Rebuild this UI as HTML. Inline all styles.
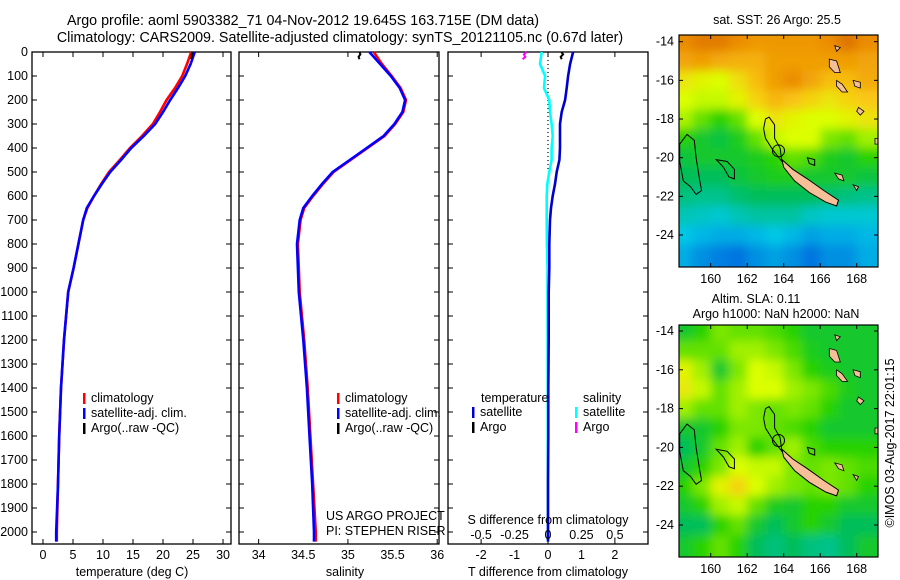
<!DOCTYPE html>
<html><head><meta charset="utf-8">
<style>
body{margin:0;background:#fff;}
svg{display:block;font-family:"Liberation Sans",sans-serif;}
text{font-size:12.5px;fill:#000;}
</style></head>
<body>
<svg id="fig" width="900" height="580" viewBox="0 0 900 580" xmlns="http://www.w3.org/2000/svg">
<rect width="900" height="580" fill="#fff"/>
<text x="303" y="25" text-anchor="middle" style="font-size:14.3px">Argo profile: aoml 5903382_71 04-Nov-2012 19.645S 163.715E (DM data)</text>
<text x="340" y="42" text-anchor="middle" style="font-size:14.3px">Climatology: CARS2009. Satellite-adjusted climatology: synTS_20121105.nc (0.67d later)</text>
<g id="g"></g>
</svg>
<script>
// ---- data ----
const depths = [0,50,100,150,200,250,300,350,400,450,500,550,600,650,700,800,900,1000,1200,1400,1600,1800,2000,2040];
const tempClim = [24.7,24.0,23.2,22.0,20.6,19.5,18.3,16.5,14.5,12.8,11.0,9.7,8.5,7.4,6.7,5.9,5.1,4.2,3.5,3.0,2.7,2.5,2.3,2.3];
const tempSat  = [25.3,24.6,23.7,22.5,21.2,20.0,18.7,16.8,14.7,13.0,11.2,9.8,8.5,7.3,6.7,5.9,5.1,4.2,3.5,3.0,2.7,2.5,2.2,2.2];
const salClim = [35.29,35.38,35.49,35.59,35.65,35.62,35.53,35.41,35.22,35.03,34.84,34.72,34.61,34.51,34.47,34.44,34.45,34.46,34.51,34.55,34.58,34.61,34.64,34.64];
const salSat  = [35.24,35.36,35.48,35.58,35.64,35.61,35.52,35.40,35.21,35.02,34.83,34.71,34.60,34.50,34.46,34.43,34.44,34.45,34.50,34.54,34.57,34.60,34.62,34.62];
const tDiffSat = [0.75,0.66,0.60,0.56,0.51,0.41,0.36,0.36,0.36,0.34,0.26,0.21,0.14,0.09,0.06,0.04,0.04,0.02,0.02,0.01,0.01,0.0,0.0,0.0];
const sDiffSat = [-0.047,-0.06,-0.022,-0.03,0.01,0.015,0.027,0.035,0.027,0.027,0.01,-0.005,-0.01,-0.01,-0.01,-0.008,-0.004,-0.004,-0.003,-0.002,-0.002,-0.001,0.0,0.0];
const argoDepths = [0,10,20,30];
const argoTemp = [24.9,24.8,24.8,24.7];
const argoSal = [35.13,35.14,35.12,35.13];
const argoTDiff = [0.40,0.45,0.38,0.41];
const argoSDiff = [-0.16,-0.18,-0.17,-0.19];
const depthTicks = [0,100,200,300,400,500,600,700,800,900,1000,1100,1200,1300,1400,1500,1600,1700,1800,1900,2000];
const tempTicks = [0,5,10,15,20,25,30];
const salTicks = [34,34.5,35,35.5,36];
const tdTicks = [-2,-1,0,1,2];
const sdTicks = [-0.5,-0.25,0,0.25,0.5];
const latTicks = [-14,-16,-18,-20,-22,-24];
const lonTicks = [160,162,164,166,168];
const sstGrid = [
[0.9,0.92,0.92,0.9,0.88,0.88,0.88,0.88,0.9,0.93,0.9],
[0.86,0.87,0.85,0.84,0.84,0.87,0.87,0.87,0.87,0.87,0.86],
[0.75,0.72,0.7,0.76,0.82,0.87,0.9,0.86,0.82,0.82,0.85],
[0.7,0.68,0.68,0.72,0.78,0.83,0.81,0.78,0.75,0.78,0.8],
[0.66,0.6,0.55,0.6,0.7,0.75,0.72,0.7,0.7,0.72,0.75],
[0.55,0.5,0.48,0.52,0.6,0.68,0.7,0.7,0.62,0.6,0.65],
[0.48,0.5,0.5,0.5,0.52,0.55,0.6,0.58,0.52,0.5,0.55],
[0.45,0.45,0.45,0.48,0.5,0.52,0.52,0.5,0.5,0.5,0.48],
[0.4,0.38,0.38,0.42,0.45,0.45,0.45,0.45,0.42,0.4,0.38],
[0.32,0.3,0.28,0.32,0.35,0.35,0.35,0.3,0.28,0.28,0.28],
[0.25,0.22,0.2,0.2,0.22,0.25,0.22,0.18,0.2,0.2,0.22],
[0.2,0.15,0.12,0.1,0.15,0.18,0.15,0.1,0.15,0.15,0.2]];
const slaGrid = [
[0.5,0.55,0.62,0.6,0.6,0.58,0.55,0.5,0.5,0.5,0.5],
[0.6,0.6,0.6,0.65,0.65,0.62,0.58,0.52,0.5,0.5,0.5],
[0.72,0.65,0.5,0.62,0.7,0.68,0.62,0.55,0.52,0.5,0.5],
[0.74,0.68,0.6,0.65,0.7,0.7,0.65,0.62,0.58,0.52,0.5],
[0.65,0.6,0.6,0.65,0.62,0.6,0.62,0.6,0.55,0.5,0.5],
[0.5,0.5,0.55,0.62,0.62,0.6,0.58,0.55,0.5,0.5,0.5],
[0.45,0.5,0.6,0.65,0.55,0.6,0.65,0.58,0.55,0.55,0.55],
[0.5,0.55,0.62,0.7,0.68,0.68,0.62,0.6,0.62,0.6,0.58],
[0.55,0.62,0.72,0.78,0.7,0.65,0.62,0.6,0.62,0.6,0.55],
[0.5,0.55,0.65,0.68,0.6,0.52,0.5,0.55,0.55,0.5,0.5],
[0.45,0.45,0.55,0.6,0.5,0.45,0.5,0.55,0.5,0.45,0.45],
[0.5,0.55,0.6,0.55,0.45,0.4,0.45,0.4,0.38,0.45,0.5]];
const newCal = [[163.9,-20.1],[164.5,-20.6],[165.3,-21.1],[166.2,-21.7],[167.0,-22.2],[166.9,-22.5],[166.3,-22.3],[165.4,-21.8],[164.6,-21.2],[164.0,-20.5]];
const vanuatu = [[[166.5,-14.9],[166.9,-15.0],[167.1,-15.6],[166.8,-15.6],[166.5,-15.3]],[[166.9,-16.0],[167.2,-16.2],[167.5,-16.6],[167.2,-16.6],[166.9,-16.3]],[[167.8,-16.0],[168.2,-16.1],[168.2,-16.4],[167.9,-16.3]],[[168.1,-17.4],[168.4,-17.6],[168.2,-17.8],[168.0,-17.6]],[[166.8,-20.8],[167.2,-20.9],[167.3,-21.2],[167.0,-21.1]],[[167.8,-21.4],[168.1,-21.5],[168.0,-21.7]],[[166.8,-14.2],[167.1,-14.3],[166.9,-14.5]],[[169.0,-19.0],[169.2,-19.0],[169.2,-19.3],[169.0,-19.3]]];
const contour1 = [[158.3,-19.3],[158.7,-18.8],[159.1,-19.1],[159.2,-20.0],[159.4,-21.2],[159.5,-21.7],[159.2,-21.9],[158.9,-21.5],[158.5,-21.2],[158.3,-20.2]];
const contour2 = [[163.0,-18.0],[163.2,-17.9],[163.5,-18.3],[163.5,-19.0],[163.8,-19.5],[163.9,-20.2],[163.4,-19.6],[163.0,-19.0],[162.9,-18.5]];
const contour3 = [[160.3,-20.1],[160.9,-20.2],[161.3,-20.6],[161.3,-21.1],[161.0,-21.0],[160.7,-20.5]];
const contour4 = [[165.3,-20.0],[165.7,-20.1],[165.7,-20.4],[165.4,-20.3]];
const argoPos = [163.715,-19.645];

const NS='http://www.w3.org/2000/svg';
const G=document.getElementById('g');
function el(tag,attrs,parent){const e=document.createElementNS(NS,tag);for(const k in attrs)e.setAttribute(k,attrs[k]);(parent||G).appendChild(e);return e;}
function txt(s,x,y,anchor,parent,size){const t=el('text',{x:x,y:y,'text-anchor':anchor||'middle'},parent);if(size)t.style.fontSize=size+'px';t.textContent=s;return t;}

const Y0=52, PY=0.24, YB=544;
const yOf=d=>Y0+d*PY;

function panel(name,x0,x1,xmin,xmax){
  const g=el('g',{});
  
  
  const xs=v=>x0+(v-xmin)/(xmax-xmin)*(x1-x0);
  return {g,xs,x0,x1};
}
function frame(p,xticks,depthLabels){
  el('rect',{x:p.x0,y:Y0,width:p.x1-p.x0,height:YB-Y0,fill:'none',stroke:'#000','stroke-width':1.3},p.g);
  depthTicks.forEach(d=>{const y=yOf(d);
    el('line',{x1:p.x0,y1:y,x2:p.x0+5,y2:y,stroke:'#000'},p.g);
    el('line',{x1:p.x1,y1:y,x2:p.x1-5,y2:y,stroke:'#000'},p.g);
    if(depthLabels){const t=txt(String(d),28,y+4,'end',p.g);
      
      }
  });
  xticks.forEach(v=>{const x=p.xs(v);
    el('line',{x1:x,y1:Y0,x2:x,y2:Y0+5,stroke:'#000'},p.g);
    el('line',{x1:x,y1:YB,x2:x,y2:YB-5,stroke:'#000'},p.g);
  });
}
function line(p,xsArr,ds,color,w,name){
  const pts=xsArr.map((v,i)=>p.xs(v).toFixed(1)+','+yOf(ds[i]).toFixed(1)).join(' ');
  const l=el('polyline',{points:pts,fill:'none',stroke:color,'stroke-width':w},p.g);
  
  
}
function legend(parent,x,y,items){
  items.forEach((it,i)=>{
    el('rect',{x:x,y:y+i*15-9,width:2.5,height:11,fill:it[0]},parent);
    const t=txt(it[1],x+8,y+i*15,'start',parent);
    
    
  });
}

const p1=panel('temperature-panel',32,231,-1.83,31.33);
frame(p1,tempTicks,true);
line(p1,tempClim,depths,'#f00',2.6,'temp-climatology-line');
line(p1,tempSat,depths,'#00f',2.6,'temp-satellite-line');
line(p1,argoTemp,argoDepths,'#000',2,'temp-argo-line');
tempTicks.forEach(v=>txt(String(v),p1.xs(v),559,'middle',p1.g));
txt('temperature (deg C)',132,576,'middle',p1.g);
legend(p1.g,83,402,[['#f00','climatology'],['#00f','satellite-adj. clim.'],['#000','Argo(..raw -QC)']]);

const p2=panel('salinity-panel',239,439,33.78,36.02);
frame(p2,[34,35,36],false);
line(p2,salClim,depths,'#f00',2.6,'sal-climatology-line');
line(p2,salSat,depths,'#00f',2.6,'sal-satellite-line');
line(p2,argoSal,argoDepths,'#000',2,'sal-argo-line');
salTicks.forEach(v=>txt(String(v),p2.xs(v),559,'middle',p2.g));
txt('salinity',345,576,'middle',p2.g);
legend(p2.g,337,402,[['#f00','climatology'],['#00f','satellite-adj. clim.'],['#000','Argo(..raw -QC)']]);
txt('US ARGO PROJECT',326,520,'start',p2.g);
txt('PI: STEPHEN RISER',326,535,'start',p2.g);

const p3=panel('difference-panel',448,648,-2.99,2.99);
frame(p3,[-2,0,2],false);
const zl=el('line',{x1:548,y1:Y0,x2:548,y2:yOf(500),stroke:'#000','stroke-dasharray':'1,3','stroke-width':1.2},p3.g);


line(p3,sDiffSat.map(v=>v*4),depths,'#0ff',2.6,'s-diff-satellite-line');
line(p3,tDiffSat,depths,'#00c',2.6,'t-diff-satellite-line');
line(p3,argoSDiff.map(v=>v*4),argoDepths,'#f0f',2,'s-diff-argo-line');
line(p3,argoTDiff,argoDepths,'#000',2,'t-diff-argo-line');
tdTicks.forEach(v=>txt(String(v),p3.xs(v),559,'middle',p3.g));
sdTicks.forEach(v=>txt(String(v),p3.xs(v*4),539,'middle',p3.g));
txt('S difference from climatology',548,524,'middle',p3.g);
txt('T difference from climatology',548,576,'middle',p3.g);
txt('temperature',481,402,'start',p3.g);
txt('salinity',583,402,'start',p3.g);
legend(p3.g,472,416,[['#00c','satellite'],['#000','Argo']]);
legend(p3.g,575,416,[['#0ff','satellite'],['#f0f','Argo']]);

function cmap(t){
  const stops=[[0,[0,60,220]],[0.25,[0,200,230]],[0.45,[0,190,90]],[0.55,[40,210,0]],[0.7,[220,255,0]],[0.8,[250,200,20]],[0.9,[235,140,0]],[1,[190,60,0]]];
  for(let i=1;i<stops.length;i++){if(t<=stops[i][0]){const a=stops[i-1],b=stops[i],f=(t-a[0])/(b[0]-a[0]);
    return 'rgb('+a[1].map((c,k)=>Math.round(c+(b[1][k]-c)*f)).join(',')+')';}}
  return 'rgb(190,60,0)';
}
function mapPanel(name,y0,y1,lat14y,lat24y,grid,titles){
  const g=el('g',{});
  
  
  const x0=679,x1=878;
  const lx=lon=>710.7+(lon-160)*18.25;
  const ly=lat=>lat14y+(-14-lat)*(lat24y-lat14y)/10;
  const id=name+'-clip';
  const cp=el('clipPath',{id:id},g);el('rect',{x:x0,y:y0,width:x1-x0,height:y1-y0},cp);
  const fid=name+'-blur';
  const f=el('filter',{id:fid,x:'-10%',y:'-10%',width:'120%',height:'120%'},g);el('feGaussianBlur',{stdDeviation:5},f);
  const outer=el('g',{'clip-path':'url(#'+id+')'},g);
  const cells=el('g',{filter:'url(#'+fid+')'},outer);
  grid.forEach((row,r)=>row.forEach((v,c)=>{
    const lon=158.5+c, lat=-14-r;
    const rc=el('rect',{x:lx(lon-0.5)-(c==0?20:0),y:ly(lat+0.5)-(r==0?20:0),width:18.25+1+(c==0||c==row.length-1?20:0),height:(lat24y-lat14y)/10+1+(r==0||r==grid.length-1?20:0),fill:cmap(v)},cells);
    
    
  }));
  const pp=a=>a.map(p=>lx(p[0]).toFixed(1)+','+ly(p[1]).toFixed(1)).join(' ');
  [contour1,contour2,contour3,contour4].forEach(c=>{const pl=el('polygon',{points:pp(c),fill:'none',stroke:'#000','stroke-width':1},outer);
    
    });
  const nc=el('polygon',{points:pp(newCal),fill:'#f5c097',stroke:'#000','stroke-width':1},outer);
  
  
  vanuatu.forEach(v=>{const pl=el('polygon',{points:pp(v),fill:'#f5c097',stroke:'#000','stroke-width':0.8},outer);
    
    });
  const ac=el('circle',{cx:lx(argoPos[0]),cy:ly(argoPos[1]),r:6,fill:'none',stroke:'#000','stroke-width':1},outer);
  
  
  el('rect',{x:x0,y:y0,width:x1-x0,height:y1-y0,fill:'none',stroke:'#000','stroke-width':1.2},g);
  latTicks.forEach(l=>{const y=ly(l);
    el('line',{x1:x0,y1:y,x2:x0+4,y2:y,stroke:'#000'},g);el('line',{x1:x1,y1:y,x2:x1-4,y2:y,stroke:'#000'},g);
    txt(String(l),674,y+4,'end',g);});
  lonTicks.forEach(l=>{const x=lx(l);
    el('line',{x1:x,y1:y0,x2:x,y2:y0+4,stroke:'#000'},g);el('line',{x1:x,y1:y1,x2:x,y2:y1-4,stroke:'#000'},g);
    txt(String(l),x,y1+16,'middle',g);});
  titles.forEach((t,i)=>txt(t[0],t[1],t[2],'middle',g));
}
mapPanel('sst-map',35,267,41.7,235,sstGrid,[['sat. SST: 26 Argo: 25.5',777,24]]);
mapPanel('sla-map',325,557,331,525,slaGrid,[['Altim. SLA: 0.11',756,303],['Argo h1000: NaN h2000: NaN',776,318]]);
const cr=txt('©IMOS 03-Aug-2017 22:01:15',0,0,'middle');
cr.setAttribute('transform','translate(894,443) rotate(-90)');


</script>
</body></html>
